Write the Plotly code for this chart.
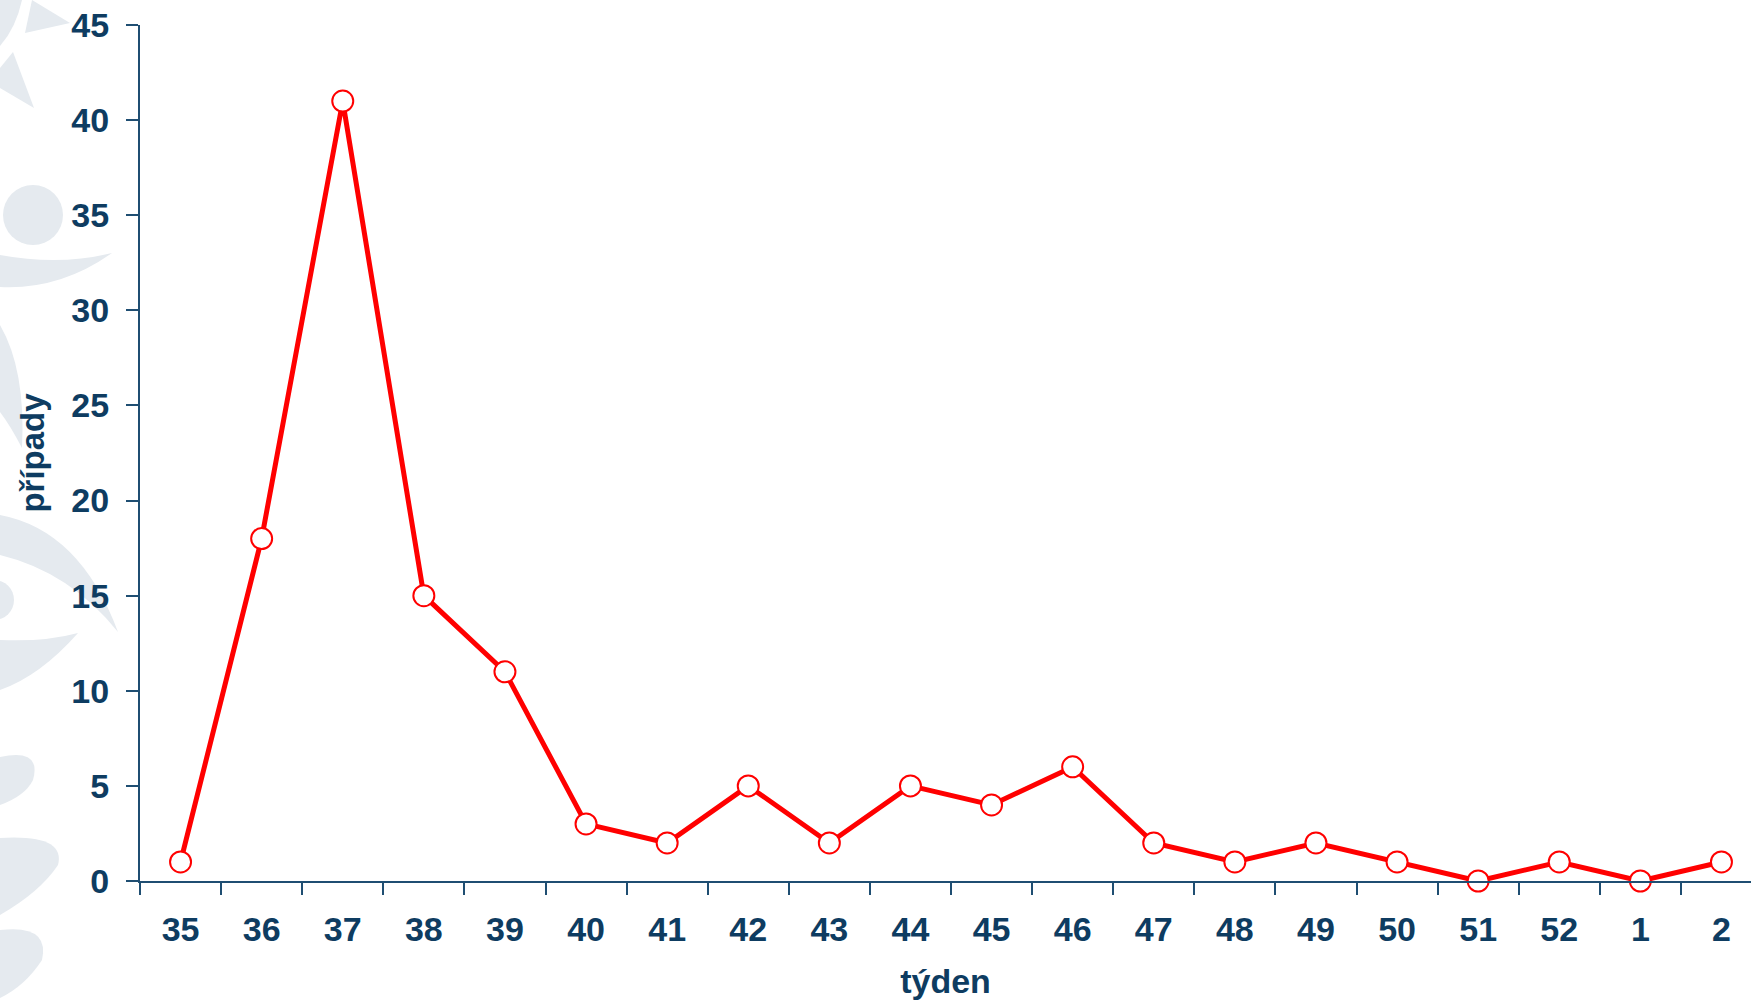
import plotly.graph_objects as go

weeks = ["35", "36", "37", "38", "39", "40", "41", "42", "43", "44",
         "45", "46", "47", "48", "49", "50", "51", "52", "1", "2"]
cases = [1, 18, 41, 15, 11, 3, 2, 5, 2, 5, 4, 6, 2, 1, 2, 1, 0, 1, 0, 1]
y_ticks = [0, 5, 10, 15, 20, 25, 30, 35, 40, 45]

W, H = 1751, 1000
ML, MR, MT, MB = 140, 0, 25, 119
TXT = "#0E3C61"
AX = "#1F4E72"
WM = "#E5EAEF"
FAM = "Liberation Sans, Arial, sans-serif"

def P(x, y):
    px = (x - ML) / (W - ML - MR)
    py = (H - MB - y) / (H - MT - MB)
    return f"{px:.5f},{py:.5f}"

def path(cmds):
    out = []
    for c in cmds:
        if c[0] in ("M", "L"):
            out.append(f"{c[0]}{P(c[1], c[2])}")
        elif c[0] == "Q":
            out.append(f"Q{P(c[1], c[2])} {P(c[3], c[4])}")
        elif c[0] == "Z":
            out.append("Z")
    return " ".join(out)

wm_paths = [
    [("M", 0, 0), ("L", 22, 0), ("Q", 16, 28, 0, 46), ("Z",)],
    [("M", 32, 0), ("L", 70, 23), ("L", 25, 33), ("Z",)],
    [("M", 13, 52), ("L", 34, 108), ("L", 0, 88), ("L", 0, 68), ("Z",)],
    [("M", 0, 255), ("Q", 60, 266, 112, 253), ("Q", 60, 290, 0, 287), ("Z",)],
    [("M", 0, 325), ("Q", 26, 370, 22, 448), ("Q", 10, 425, 0, 412), ("Z",)],
    [("M", 0, 515), ("Q", 80, 530, 118, 632), ("Q", 70, 572, 0, 555), ("Z",)],
    [("M", 0, 640), ("Q", 45, 642, 78, 633), ("Q", 40, 676, 0, 690), ("Z",)],
    [("M", 0, 757), ("Q", 42, 748, 33, 780), ("Q", 25, 796, 0, 805), ("Z",)],
    [("M", 0, 838), ("Q", 66, 834, 58, 865), ("Q", 40, 892, 0, 915), ("Z",)],
    [("M", 0, 930), ("Q", 50, 924, 42, 960), ("Q", 25, 986, 0, 998), ("Z",)],
]

shapes = []
for cm in wm_paths:
    shapes.append(dict(type="path", xref="paper", yref="paper", path=path(cm),
                       fillcolor=WM, line=dict(width=0), layer="below"))
for cx, cy, r in [(33, 215, 30), (-6, 600, 20)]:
    x0, y0 = P(cx - r, cy + r).split(",")
    x1, y1 = P(cx + r, cy - r).split(",")
    shapes.append(dict(type="circle", xref="paper", yref="paper",
                       x0=float(x0), y0=float(y0), x1=float(x1), y1=float(y1),
                       fillcolor=WM, line=dict(width=0), layer="below"))

fig = go.Figure()
fig.add_trace(go.Scatter(
    x=weeks, y=cases, mode="lines+markers",
    line=dict(color="#FF0000", width=5),
    marker=dict(symbol="circle", size=21, color="white",
                line=dict(color="#FF0000", width=2)),
    cliponaxis=False,
))

plot_w = W - ML - MR
xmax = -0.5 + plot_w / 81.1

fig.update_layout(
    width=W, height=H,
    margin=dict(l=ML, r=MR, t=MT, b=MB, pad=0),
    paper_bgcolor="white", plot_bgcolor="rgba(0,0,0,0)",
    showlegend=False,
    shapes=shapes,
    font=dict(family=FAM, size=34, color=TXT),
    xaxis=dict(
        type="category", range=[-0.5, xmax], tickson="boundaries",
        showgrid=False, zeroline=False,
        showline=True, linecolor=AX, linewidth=2,
        ticks="outside", ticklen=12, tickwidth=2, tickcolor=AX,
        tickfont=dict(family=FAM, size=34, color=TXT, weight="bold"),
        ticklabelstandoff=17,
        title=dict(text="<b>týden</b>", font=dict(family=FAM, size=34, color=TXT), standoff=23),
    ),
    yaxis=dict(
        range=[0, 45], tickvals=y_ticks,
        showgrid=False, zeroline=False,
        showline=True, linecolor=AX, linewidth=2,
        ticks="outside", ticklen=12, tickwidth=2, tickcolor=AX,
        tickfont=dict(family=FAM, size=34, color=TXT, weight="bold"),
        ticklabelstandoff=10,
        title=dict(text="<b>případy</b>", font=dict(family=FAM, size=33, color=TXT), standoff=17),
    ),
)

fig.write_html("out.html", config={"displayModeBar": False},
               post_script="document.body.style.margin='0px';")
